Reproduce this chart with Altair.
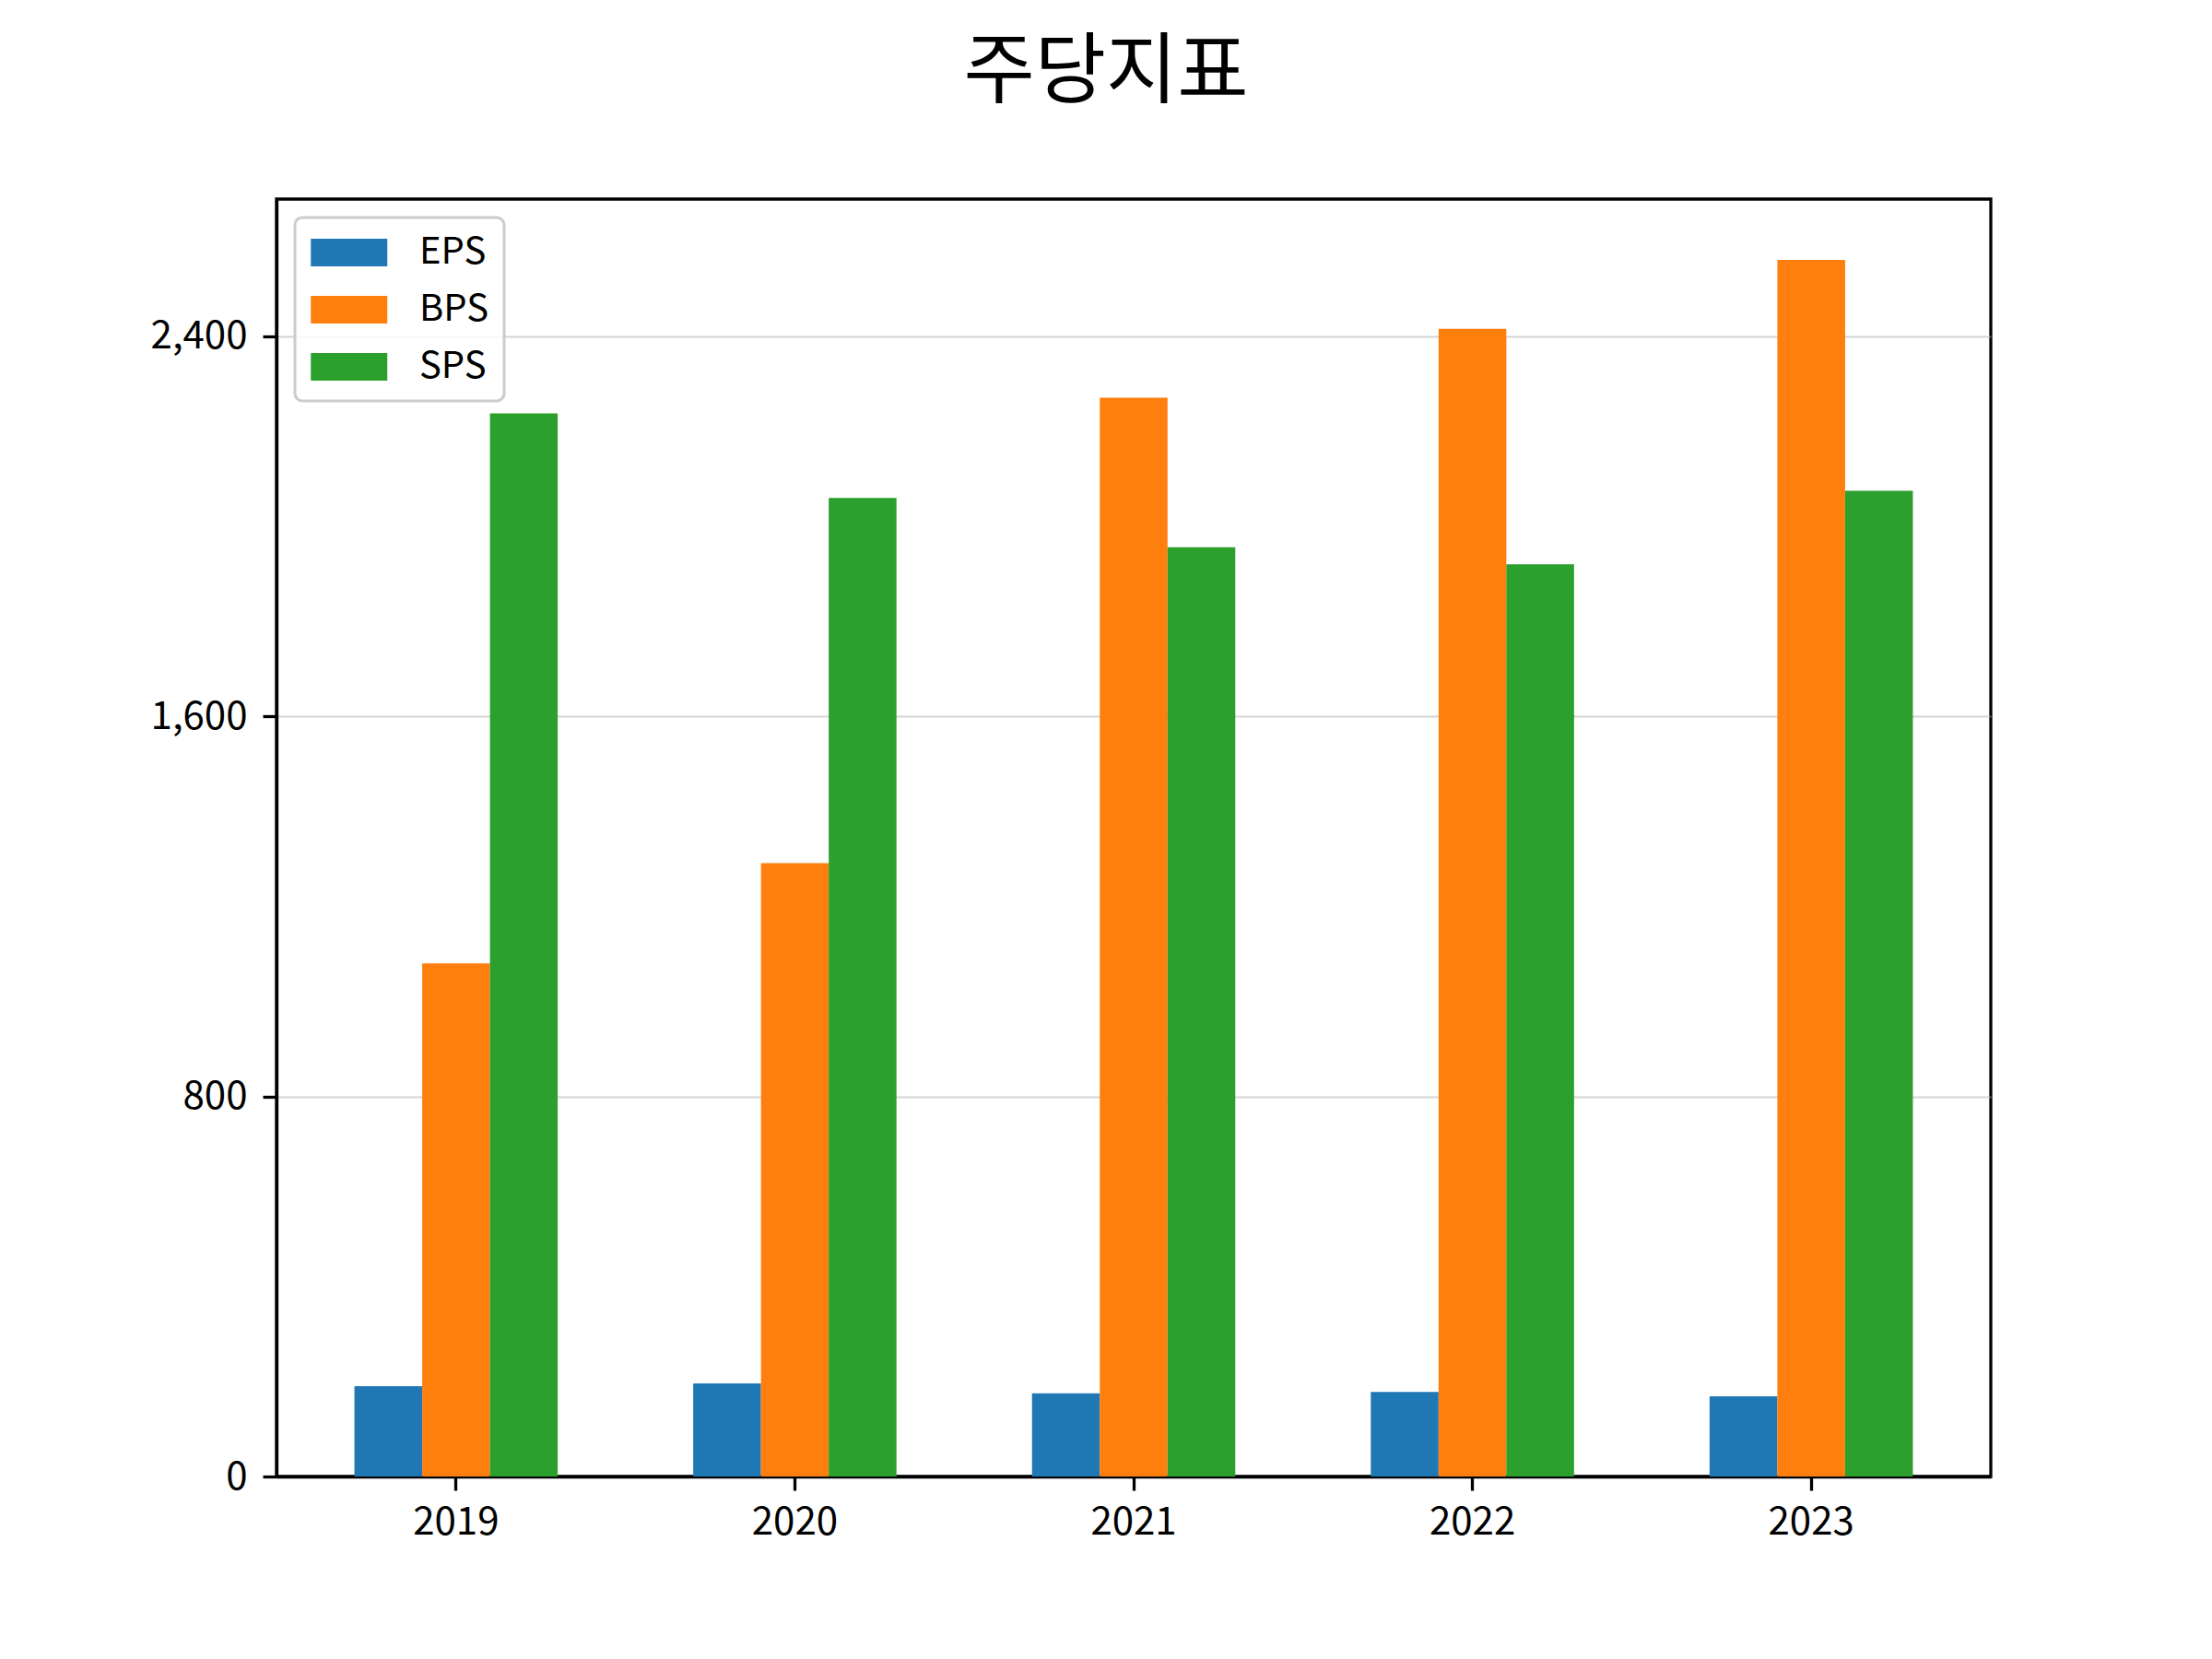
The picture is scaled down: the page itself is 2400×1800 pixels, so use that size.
import altair as alt
import pandas as pd

years = ["2019", "2020", "2021", "2022", "2023"]
metrics = ["EPS", "BPS", "SPS"]
eps = [190, 196, 175, 178, 169]
bps = [1080, 1291, 2271, 2416, 2561]
sps = [2238, 2060, 1956, 1920, 2075]
colors = ["#1f77b4", "#ff7f0e", "#2ca02c"]
y_ticks = [0, 800, 1600, 2400]
y_max = 2689

rows = []
for name, vals in zip(metrics, [eps, bps, sps]):
    for yr, v in zip(years, vals):
        rows.append({"연도": yr, "지표": name, "값": v})
df = pd.DataFrame(rows)

FONT = "Noto Sans CJK KR"
LW = 3.3

chart = (
    alt.Chart(df)
    .mark_bar()
    .encode(
        x=alt.X(
            "연도:N",
            sort=years,
            scale=alt.Scale(paddingInner=0.4, paddingOuter=0.23),
            axis=alt.Axis(labelAngle=0, title=None, grid=False, labelPadding=14),
        ),
        xOffset=alt.XOffset(
            "지표:N", sort=metrics, scale=alt.Scale(paddingInner=0, paddingOuter=0)
        ),
        y=alt.Y(
            "값:Q",
            scale=alt.Scale(domain=[0, y_max], nice=False),
            axis=alt.Axis(
                values=y_ticks,
                format=",d",
                title=None,
                grid=True,
                gridColor="#b0b0b0",
                gridOpacity=0.55,
                gridWidth=2,
                labelPadding=17,
            ),
        ),
        color=alt.Color(
            "지표:N",
            sort=metrics,
            scale=alt.Scale(domain=metrics, range=colors),
            legend=alt.Legend(
                title=None,
                orient="top-left",
                offset=20,
                padding=17,
                fillColor="rgba(255,255,255,0.8)",
                strokeColor="#cccccc",
                cornerRadius=8,
                labelFontSize=40,
                labelFont=FONT,
                labelColor="black",
                labelOffset=76,
                rowPadding=21,
                symbolType="M-1,-0.72H3V0.72H-1Z",
                symbolSize=1722,
                symbolStrokeWidth=0,
                symbolOpacity=1,
            ),
        ),
    )
    .properties(
        width=1860,
        height=1386,
        autosize=alt.AutoSizeParams(type="none"),
        padding={"left": 292, "top": 208, "right": 232, "bottom": 190},
        title=alt.TitleParams(
            text="주당지표",
            fontSize=84,
            font=FONT,
            fontWeight="normal",
            color="black",
            anchor="middle",
            dx=-30,
            baseline="alphabetic",
            offset=27,
        ),
    )
    .configure(font=FONT)
    .configure_view(stroke="black", strokeWidth=LW)
    .configure_legend(strokeWidth=3)
    .configure_axis(
        zindex=1,
        labelFont=FONT,
        labelFontSize=42,
        labelColor="black",
        tickColor="black",
        tickSize=15,
        tickWidth=LW,
        domainColor="black",
        domainWidth=LW,
    )
)

chart.save("out.html", embed_options={"renderer": "svg", "actions": False})
